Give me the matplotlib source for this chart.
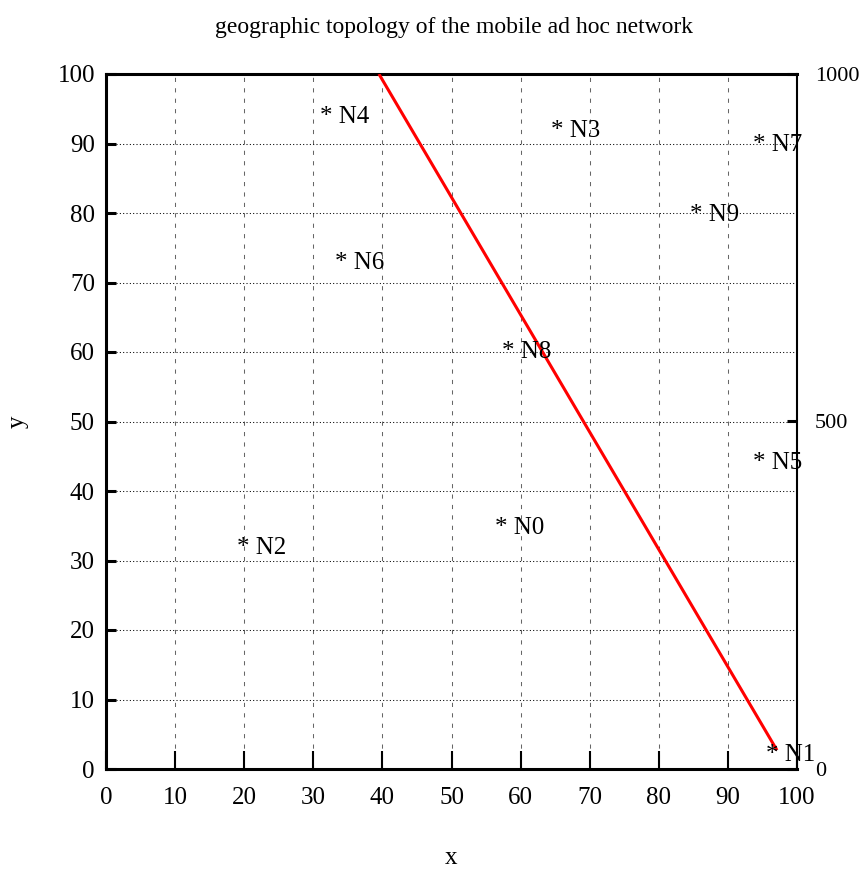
import matplotlib
matplotlib.use("Agg")
import matplotlib.pyplot as plt

plt.rcParams['font.family'] = ['Liberation Serif', 'DejaVu Serif']

# Node positions (label anchor) in the 100 x 100 field
node_names = ["N0", "N1", "N2", "N3", "N4", "N5", "N6", "N7", "N8", "N9"]
node_x = [56.3, 95.5, 19.0, 64.4, 31.0, 93.6, 33.1, 93.6, 57.3, 84.5]
node_y = [34.7, 2.0, 31.8, 91.8, 93.8, 44.0, 72.8, 89.8, 60.0, 79.7]

# Route segment drawn in red
route_x = [97.1, 39.5]
route_y = [2.7, 100.0]

x_ticks = list(range(0, 101, 10))
y_ticks = list(range(0, 101, 10))
y2_ticks = [0, 500, 1000]

FS = 18

fig = plt.figure(figsize=(8.63, 8.73), dpi=100)
ax = fig.add_axes([106 / 863, 1 - 769 / 873, (797 - 106) / 863, (769 - 74) / 873])

ax.set_xlim(0, 100)
ax.set_ylim(0, 100)
ax.set_xticks(x_ticks)
ax.set_yticks(y_ticks)

# grid: grey dashed verticals, black dotted horizontals
for xv in x_ticks[1:-1]:
    ax.axvline(xv, color="#666666", lw=0.75, dashes=(4, 6), zorder=1)
for yv in y_ticks[1:-1]:
    ax.axhline(yv, color="black", lw=0.75, dashes=(1, 2.2), zorder=1)

ax.plot(route_x, route_y, color="red", lw=2.2, solid_capstyle="butt", zorder=3)

for name, x, y in zip(node_names, node_x, node_y):
    ax.text(x, y, "* " + name, ha="left", va="center", fontsize=FS, zorder=4)

for side in ["left", "bottom", "top"]:
    ax.spines[side].set_linewidth(2.2)
ax.spines["right"].set_linewidth(1.5)

ax.tick_params(axis="x", direction="in", length=13, width=1.5, labelsize=FS,
               pad=13, top=False)
ax.tick_params(axis="y", direction="in", length=7, width=2.2, labelsize=FS,
               pad=8, right=False)

ax2 = ax.twinx()
ax2.set_ylim(0, 1000)
ax2.set_yticks(y2_ticks)
ax2.tick_params(axis="y", direction="in", length=7, width=2.2, labelsize=16, pad=13)
for side in ["left", "bottom", "top", "right"]:
    ax2.spines[side].set_visible(False)

ax.set_xlabel("x", fontsize=FS, va="center")
ax.xaxis.set_label_coords(0.5, -0.128)
ax.set_ylabel("y", fontsize=FS, va="center")
ax.yaxis.set_label_coords(-0.128, 0.5)
fig.text(454 / 863, 1 - 28 / 873, "geographic topology of the mobile ad hoc network",
         fontsize=17, ha="center", va="center")

fig.savefig("out.png", dpi=100)
